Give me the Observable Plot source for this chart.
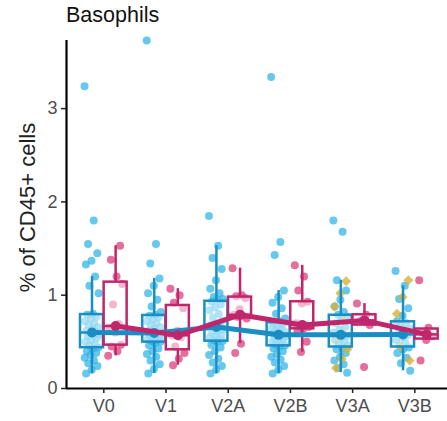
<!DOCTYPE html>
<html><head><meta charset="utf-8">
<script src="https://cdn.jsdelivr.net/npm/d3@7"></script>
<script src="https://cdn.jsdelivr.net/npm/@observablehq/plot@0.6"></script>
<style>
body{margin:0;background:#fff;font-family:"Liberation Sans",Arial,sans-serif}
#wrap{position:relative;width:447px;height:421px;overflow:hidden}
#title{position:absolute;left:66px;top:3px;font-size:21.5px;color:#111;line-height:24px}
#chart{position:absolute;left:0;top:30px}
</style></head><body>
<div id="wrap"><div id="title">Basophils</div><div id="chart"></div></div>
<script>
const title = "Basophils";
const yLabel = "% of CD45+ cells";
const categories = ["V0", "V1", "V2A", "V2B", "V3A", "V3B"];
const yTicks = [0, 1, 2, 3];

// blue group, one list per visit
const blueV0 = [3.24, 1.80, 1.55, 1.45, 1.37, 1.33, 1.20, 1.10, 1.02, 0.80, 0.79, 0.77, 0.75, 0.72, 0.70, 0.68, 0.66, 0.64, 0.62, 0.61, 0.59, 0.58, 0.57, 0.56, 0.54, 0.52, 0.50, 0.48, 0.46, 0.44, 0.43, 0.40, 0.38, 0.36, 0.33, 0.30, 0.27, 0.24, 0.20, 0.16];
const blueV1 = [3.73, 1.55, 1.34, 1.18, 1.10, 1.02, 0.95, 0.88, 0.82, 0.79, 0.78, 0.76, 0.74, 0.72, 0.70, 0.68, 0.66, 0.64, 0.62, 0.60, 0.59, 0.58, 0.57, 0.56, 0.55, 0.54, 0.53, 0.52, 0.51, 0.50, 0.49, 0.46, 0.43, 0.40, 0.37, 0.34, 0.30, 0.26, 0.21, 0.16];
const blueV2A = [1.85, 1.53, 1.40, 1.28, 1.16, 1.07, 1.02, 0.98, 0.96, 0.95, 0.93, 0.90, 0.87, 0.84, 0.80, 0.76, 0.73, 0.70, 0.68, 0.67, 0.65, 0.63, 0.61, 0.60, 0.58, 0.56, 0.55, 0.53, 0.52, 0.51, 0.50, 0.47, 0.44, 0.40, 0.36, 0.32, 0.28, 0.24, 0.20, 0.16];
const blueV2B = [3.34, 1.57, 1.43, 1.05, 0.98, 0.92, 0.86, 0.80, 0.75, 0.72, 0.70, 0.69, 0.67, 0.65, 0.64, 0.62, 0.61, 0.60, 0.59, 0.58, 0.57, 0.56, 0.55, 0.54, 0.53, 0.52, 0.50, 0.49, 0.47, 0.46, 0.45, 0.43, 0.40, 0.37, 0.34, 0.31, 0.28, 0.24, 0.20, 0.16];
const blueV3A = [1.80, 1.68, 1.16, 1.05, 0.95, 0.88, 0.82, 0.79, 0.77, 0.74, 0.70, 0.66, 0.63, 0.60, 0.58, 0.57, 0.56, 0.54, 0.52, 0.50, 0.48, 0.46, 0.44, 0.42, 0.38, 0.34, 0.30, 0.26, 0.22, 0.17];
const blueV3B = [1.26, 1.10, 0.96, 0.86, 0.78, 0.72, 0.70, 0.67, 0.64, 0.61, 0.59, 0.57, 0.55, 0.52, 0.49, 0.46, 0.44, 0.42, 0.38, 0.33, 0.27, 0.19];
// yellow subset drawn inside the blue columns
const yellowV3A = [1.15, 1.02, 0.88, 0.72, 0.55, 0.42, 0.32, 0.22];
const yellowV3B = [1.16, 0.98, 0.80, 0.62, 0.45, 0.30];
// magenta group
const magV0 = [0.35, 0.40, 0.45, 0.47, 0.60, 0.65, 0.69, 0.90, 1.12, 1.20, 1.38, 1.53];
const magV1 = [1.07, 1.00, 0.92, 0.86, 0.62, 0.57, 0.55, 0.45, 0.38, 0.32, 0.25];
const magV2A = [1.29, 1.00, 0.99, 0.97, 0.85, 0.79, 0.78, 0.77, 0.75, 0.48, 0.38];
const magV2B = [1.32, 1.20, 1.05, 0.93, 0.91, 0.70, 0.68, 0.67, 0.66, 0.64, 0.62, 0.50, 0.39];
const magV3A = [0.91, 0.79, 0.73, 0.68, 0.23];
const magV3B = [1.16, 0.65, 0.60, 0.56, 0.52, 0.30];

const blueSeries = [blueV0, blueV1, blueV2A, blueV2B, blueV3A, blueV3B];
const magSeries = [magV0, magV1, magV2A, magV2B, magV3A, magV3B];
const yellowSeries = [[], [], [], [], yellowV3A, yellowV3B];

const BLUE_PT = "#2cb3e6", BLUE = "#1a8dc3";
const MAG_PT = "#dc3f7b", MAG = "#c0266b";
const YEL = "#d8b23a";
const OFF = 0.19, HALF = 0.185, JIT = 0.24;

function jitter(k) { return ((k * 0.618034) % 1 - 0.5) * JIT; }

const points = [];
const stats = [];
function addGroup(series, group, off, kind) {
  series.forEach((vals, i) => {
    vals.forEach((v, k) => points.push({group, kind, value: v, xj: i + off + jitter(k + (kind === "y" ? 3 : 0))}));
    if (kind === "y" || vals.length === 0) return;
    const s = vals.slice().sort(d3.ascending);
    const q1 = d3.quantile(s, 0.25), med = d3.quantile(s, 0.5), q3 = d3.quantile(s, 0.75);
    const iqr = q3 - q1;
    const lo = d3.min(s.filter(v => v >= q1 - 1.5 * iqr));
    const hi = d3.max(s.filter(v => v <= q3 + 1.5 * iqr));
    stats.push({group, cat: categories[i], cx: i + off, q1, med, q3, lo, hi});
  });
}
addGroup(blueSeries, "blue", -OFF, "b");
addGroup(yellowSeries, "blue", -OFF, "y");
addGroup(magSeries, "mag", OFF, "m");

const col = g => g === "blue" ? BLUE : MAG;
const blueStats = stats.filter(d => d.group === "blue");
const magStats = stats.filter(d => d.group === "mag");

const chart = Plot.plot({
  width: 447, height: 391,
  marginLeft: 66, marginRight: 0, marginTop: 10, marginBottom: 33,
  style: {fontFamily: "Liberation Sans, Arial, sans-serif", background: "white", overflow: "visible"},
  x: {type: "linear", domain: [-0.6, 5.525]},
  y: {domain: [0, 3.73]},
  marks: [
    Plot.dot(points.filter(d => d.kind === "b"), {x: "xj", y: "value", r: 4, fill: BLUE_PT, fillOpacity: 0.72}),
    Plot.dot(points.filter(d => d.kind === "y"), {x: "xj", y: "value", r: 4.5, symbol: "diamond2", fill: YEL, fillOpacity: 0.8}),
    Plot.dot(points.filter(d => d.kind === "m"), {x: "xj", y: "value", r: 4, fill: MAG_PT, fillOpacity: 0.75}),
    Plot.ruleX(stats, {x: "cx", y1: "q3", y2: "hi", stroke: d => col(d.group), strokeWidth: 2.5}),
    Plot.ruleX(stats, {x: "cx", y1: "lo", y2: "q1", stroke: d => col(d.group), strokeWidth: 2.5}),
    Plot.rect(stats, {x1: d => d.cx - HALF, x2: d => d.cx + HALF, y1: "q1", y2: "q3", fill: "white", fillOpacity: 0.5, stroke: d => col(d.group), strokeWidth: 2.5}),
    Plot.ruleY(stats, {y: "med", x1: d => d.cx - HALF, x2: d => d.cx + HALF, stroke: d => col(d.group), strokeWidth: 2.5}),
    Plot.line(blueStats, {x: "cx", y: "med", stroke: BLUE, strokeWidth: 5}),
    Plot.dot(blueStats, {x: "cx", y: "med", r: 5, fill: BLUE}),
    Plot.line(magStats, {x: "cx", y: "med", stroke: MAG, strokeWidth: 5}),
    Plot.dot(magStats, {x: "cx", y: "med", r: 5, fill: MAG}),
    Plot.ruleX([-0.6], {stroke: "black", strokeWidth: 2.2}),
    Plot.ruleY([0], {stroke: "black", strokeWidth: 2.2}),
    Plot.axisY({ticks: yTicks, tickFormat: d => String(d), tickSize: 5, tickPadding: 4, fontSize: 18, fill: "#4d4d4d", stroke: "#222", strokeWidth: 1.5, label: null}),
    Plot.axisX({ticks: d3.range(categories.length), tickFormat: i => categories[i], tickSize: 5, tickPadding: 6, fontSize: 18, fill: "#4d4d4d", stroke: "#222", strokeWidth: 1.5, label: null}),
    Plot.text([yLabel], {frameAnchor: "left", textAnchor: "middle", dx: -39, dy: -7, rotate: -90, fontSize: 22, fill: "#222"})
  ]
});
document.getElementById("chart").appendChild(chart);
document.getElementById("title").textContent = title;
</script>
</body></html>
